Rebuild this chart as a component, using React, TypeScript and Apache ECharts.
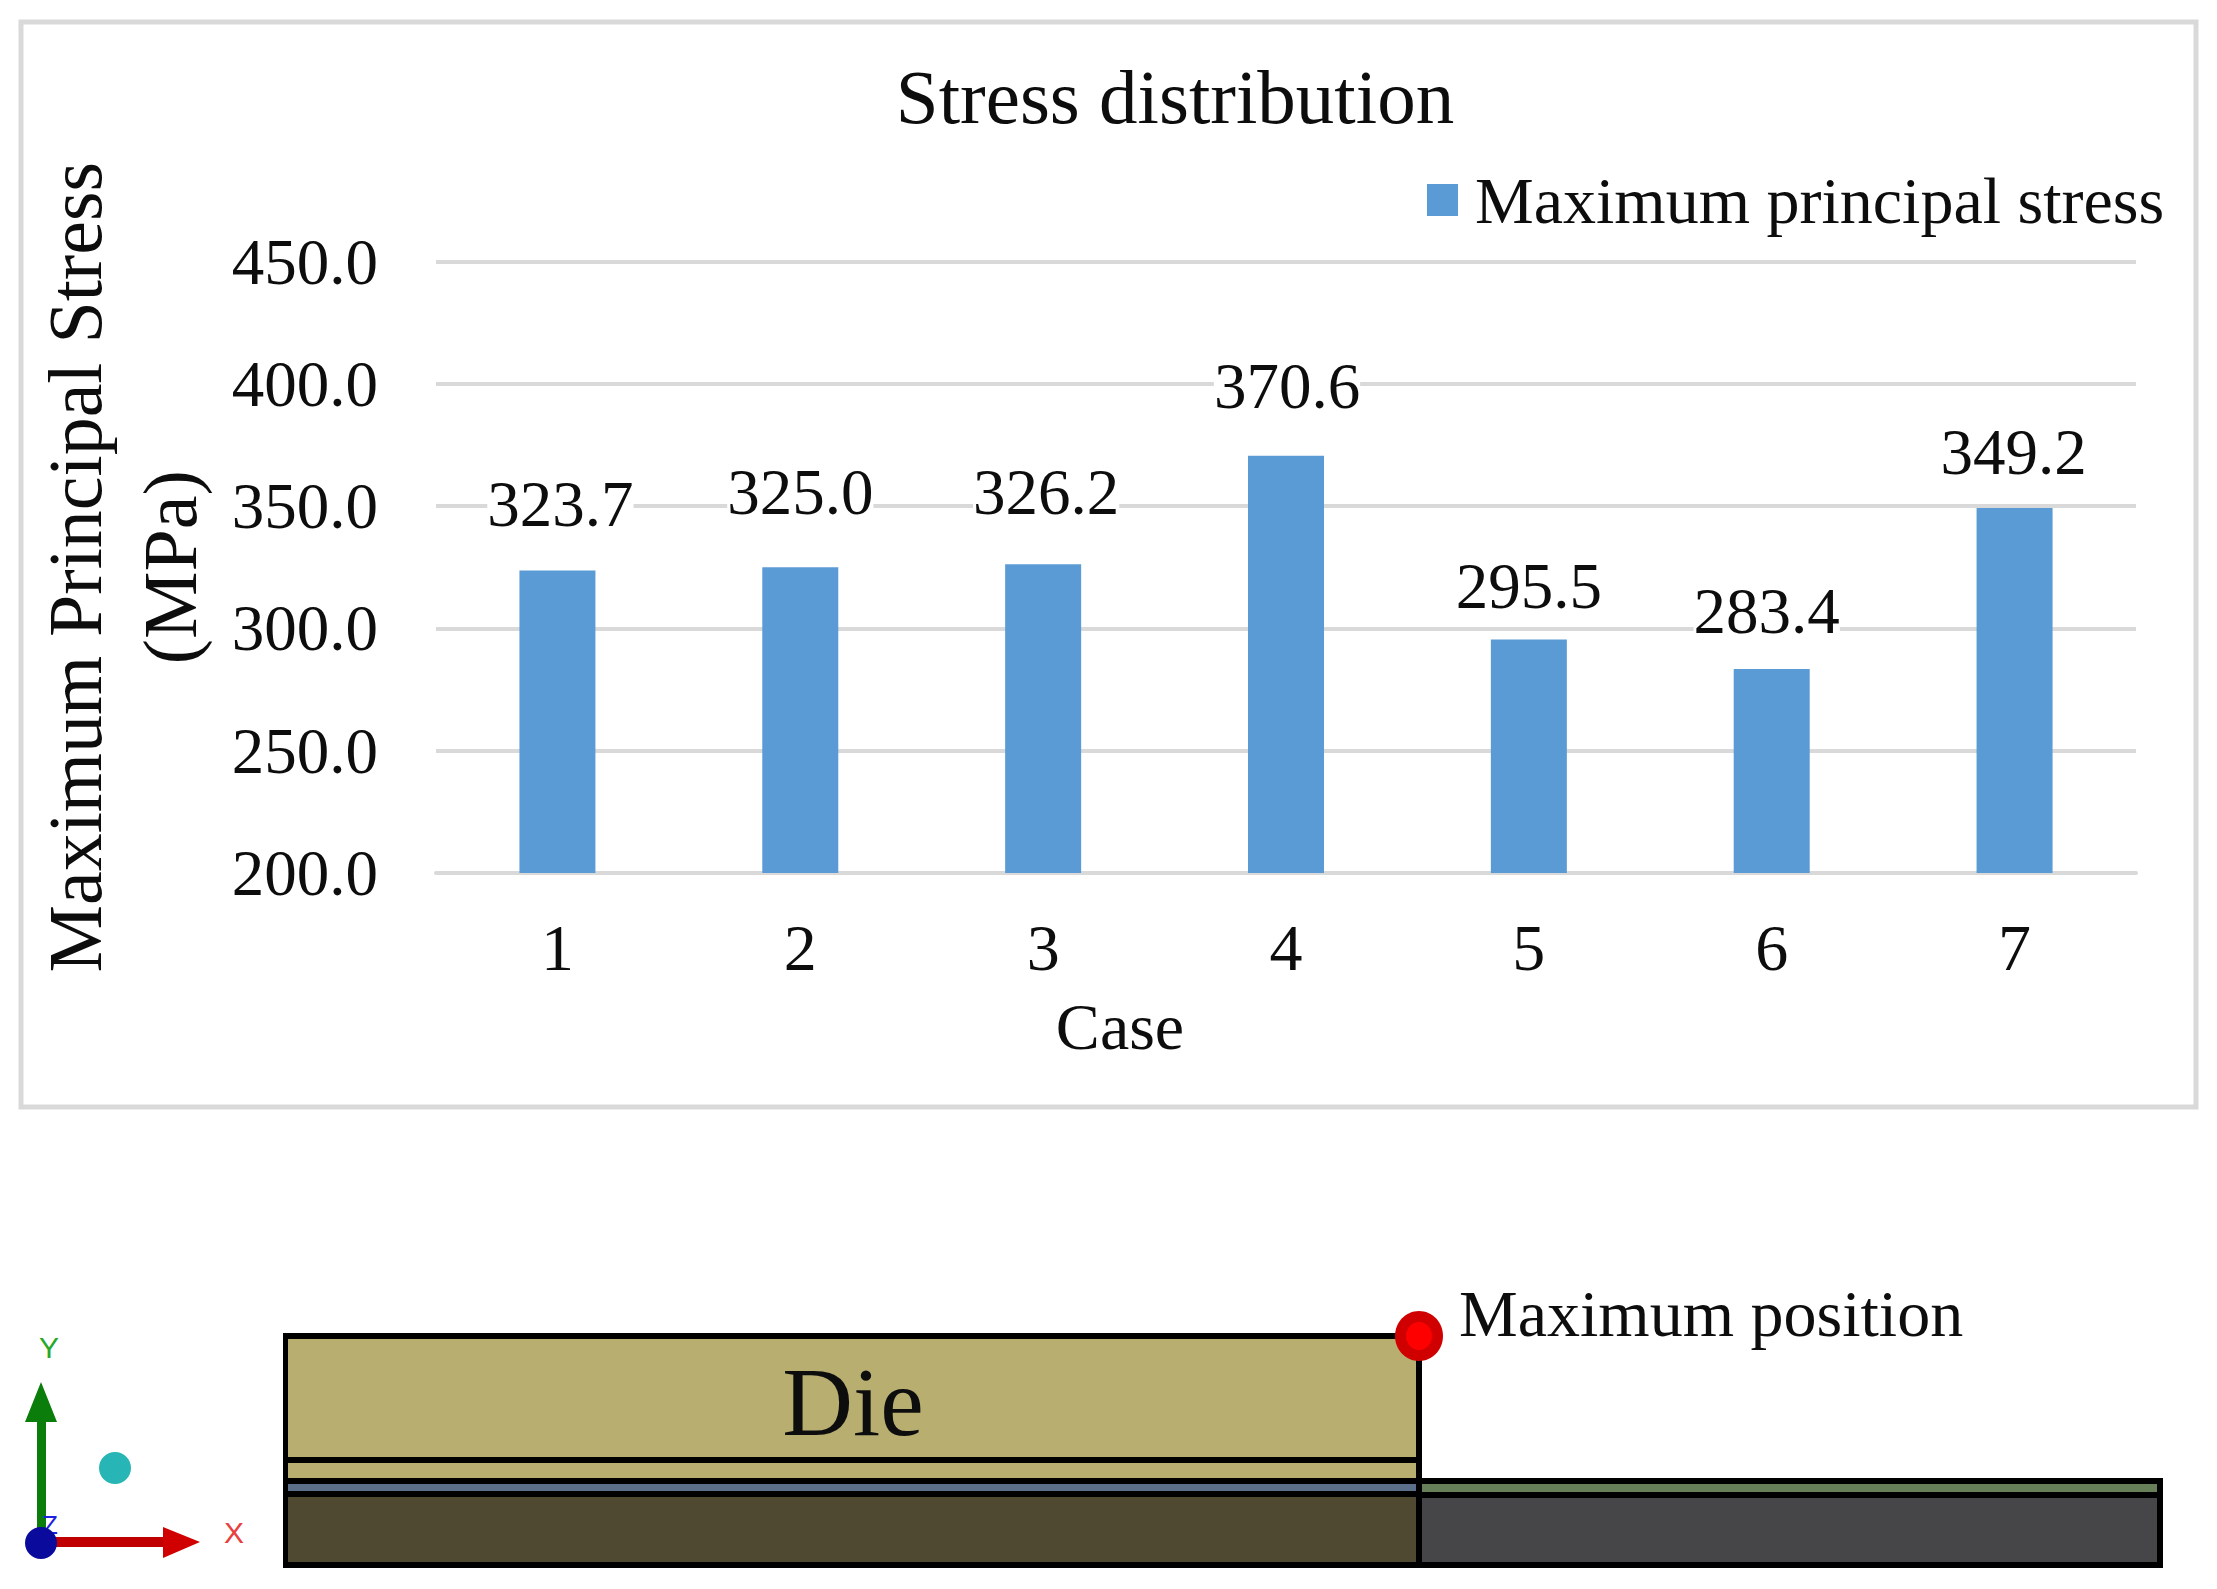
import React, { useEffect, useRef } from "react";
import * as echarts from "echarts";

const categories = ["1", "2", "3", "4", "5", "6", "7"];
const stressValues = [323.7, 325.0, 326.2, 370.6, 295.5, 283.4, 349.2];
const seriesName = "Maximum principal stress";
const labelShiftX = [3, 0, 3, 1, 0, -5, -1];
const labelShiftY = [-29, -38, -35, -32, -16, -21, -19];

const FONT = "'Liberation Serif', 'Times New Roman', serif";
const TEXT = "#0d0d0d";
const GRID = "#d9d9d9";

const rect = (x: number, y: number, w: number, h: number, fill: string, z = 1) => ({
  type: "rect", z, shape: { x, y, width: w, height: h }, style: { fill },
});

const diagram = [
  // frame
  { type: "rect", z: 0, shape: { x: 21, y: 22, width: 2175, height: 1085 }, style: { fill: "none", stroke: GRID, lineWidth: 5 } },
  // left block (die stack)
  rect(283, 1333, 1139, 235, "#000000", 1),
  rect(288, 1339, 1128, 118, "#b7ae70", 2),
  rect(288, 1463, 1128, 15, "#b7ae70", 2),
  rect(288, 1484, 1128, 7, "#5c6f8a", 2),
  rect(288, 1497, 1128, 65, "#4e4930", 2),
  // right block
  rect(1416, 1478, 747, 90, "#000000", 1),
  rect(1422, 1484, 735, 8, "#67805a", 2),
  rect(1422, 1498, 735, 64, "#464648", 2),
  // maximum marker
  { type: "ellipse", z: 5, shape: { cx: 1419, cy: 1336, rx: 24, ry: 25 }, style: { fill: "#d00000" } },
  { type: "ellipse", z: 6, shape: { cx: 1419, cy: 1336, rx: 13, ry: 14 }, style: { fill: "#ff0000" } },
  { type: "text", z: 6, x: 1459, y: 1313, style: { text: "Maximum position", font: `66px ${FONT}`, fill: TEXT, textAlign: "left", textVerticalAlign: "middle" } },
  { type: "text", z: 6, x: 853, y: 1402, style: { text: "Die", font: `98px ${FONT}`, fill: TEXT, textAlign: "center", textVerticalAlign: "middle" } },
  // coordinate triad
  rect(37, 1422, 9, 110, "#0b7d0b", 2),
  { type: "polygon", z: 3, shape: { points: [[41, 1382], [57, 1422], [25, 1422]] }, style: { fill: "#0b7d0b" } },
  rect(54, 1537, 110, 10, "#c00000", 2),
  { type: "polygon", z: 3, shape: { points: [[200, 1542], [163, 1527], [163, 1558]] }, style: { fill: "#d00000" } },
  { type: "text", z: 3, x: 50, y: 1525, style: { text: "Z", font: "26px 'Liberation Sans', sans-serif", fill: "#2020e0", textAlign: "center", textVerticalAlign: "middle" } },
  { type: "ellipse", z: 4, shape: { cx: 41, cy: 1543, rx: 16, ry: 16 }, style: { fill: "#0a0a9c" } },
  { type: "ellipse", z: 4, shape: { cx: 115, cy: 1468, rx: 16, ry: 16 }, style: { fill: "#27b5b5" } },
  { type: "text", z: 3, x: 49, y: 1347, style: { text: "Y", font: "30px 'Liberation Sans', sans-serif", fill: "#28a828", textAlign: "center", textVerticalAlign: "middle" } },
  { type: "text", z: 3, x: 234, y: 1532, style: { text: "X", font: "30px 'Liberation Sans', sans-serif", fill: "#e84040", textAlign: "center", textVerticalAlign: "middle" } },
];

export default function App() {
  const ref = useRef<HTMLDivElement>(null);
  useEffect(() => {
    if (!ref.current) return;
    const chart = echarts.init(ref.current, undefined, { renderer: "svg" });
    chart.setOption({
      animation: false,
      backgroundColor: "#ffffff",
      textStyle: { fontFamily: FONT },
      title: {
        text: "Stress distribution",
        left: 1170,
        top: 53,
        textAlign: "center",
        textStyle: { fontFamily: FONT, fontSize: 77, fontWeight: "normal", color: TEXT },
      },
      legend: {
        left: 1422,
        top: 162,
        itemWidth: 31,
        itemHeight: 32,
        itemGap: 0,
        icon: "rect",
        data: [seriesName],
        textStyle: { fontFamily: FONT, fontSize: 66, color: TEXT, padding: [0, 0, 0, 12] },
      },
      grid: { left: 436, top: 261.5, width: 1700, height: 611.5, outerBoundsMode: "none", containLabel: false },
      xAxis: {
        type: "category",
        data: categories,
        name: "Case",
        nameLocation: "middle",
        nameGap: 120,
        nameTextStyle: { fontFamily: FONT, fontSize: 66, color: TEXT, padding: [0, 332, 0, 0] },
        axisTick: { show: false },
        axisLine: { lineStyle: { color: GRID, width: 4 } },
        axisLabel: { fontFamily: FONT, fontSize: 66, color: TEXT, margin: 41 },
      },
      yAxis: {
        type: "value",
        min: 200,
        max: 450,
        interval: 50,
        name: "Maximum Principal Stress\n(MPa)",
        nameLocation: "middle",
        nameGap: 219,
        nameRotate: 90,
        nameTextStyle: { fontFamily: FONT, fontSize: 76, color: TEXT, lineHeight: 95 },
        axisLine: { show: false },
        axisTick: { show: false },
        axisLabel: { fontFamily: FONT, fontSize: 65, color: TEXT, margin: 58, padding: [0, 0, 4, 0], formatter: (v: number) => v.toFixed(1) },
        splitLine: { lineStyle: { color: GRID, width: 4 } },
      },
      series: [
        {
          name: seriesName,
          type: "bar",
          barWidth: 76,
          itemStyle: { color: "#5b9bd5" },
          data: stressValues.map((value, i) => ({
            value,
            label: {
              show: true,
              position: "top",
              offset: [labelShiftX[i], labelShiftY[i]],
              formatter: (p: any) => Number(p.value).toFixed(1),
              fontFamily: FONT,
              fontSize: 65,
              color: TEXT,
              backgroundColor: "#ffffff",
            },
          })),
        },
      ],
      graphic: { elements: diagram },
    });
    return () => chart.dispose();
  }, []);
  return <div ref={ref} style={{ position: "absolute", left: 0, top: 0, width: 2217, height: 1589 }} />;
}
